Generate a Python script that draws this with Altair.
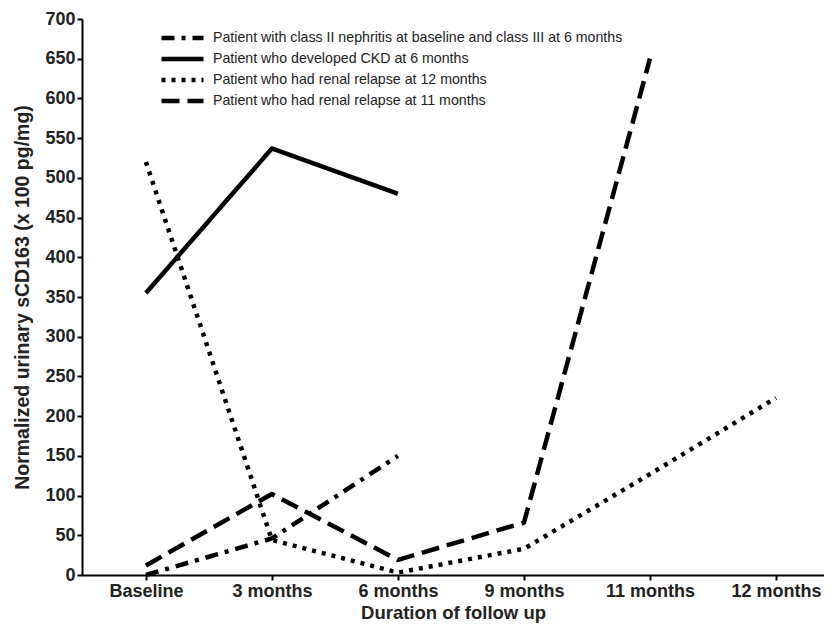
import altair as alt
import pandas as pd

timepoints = ["Baseline", "3 months", "6 months", "9 months", "11 months", "12 months"]

series_names = [
    "Patient with class II nephritis at baseline and class III at 6 months",
    "Patient who developed CKD at 6 months",
    "Patient who had renal relapse at 12 months",
    "Patient who had renal relapse at 11 months",
]

class2_vals = [0, 46, 150, None, None, None]
ckd_vals = [355, 537, 480, None, None, None]
relapse12_vals = [520, 44, 3, 33, 127, 223]
relapse11_vals = [12, 102, 19, 66, 650, None]

rows = []
for name, vals in zip(series_names, [class2_vals, ckd_vals, relapse12_vals, relapse11_vals]):
    for t, v in zip(timepoints, vals):
        if v is not None:
            rows.append({"time": t, "value": v, "series": name})
df = pd.DataFrame(rows)

dashes = [[13, 7, 4, 7], [1, 0], [4, 6], [18, 8]]

chart = alt.Chart(df).mark_line(color="black", strokeWidth=4.5, strokeCap="butt", strokeJoin="round").encode(
    x=alt.X("time:N", sort=timepoints,
            scale=alt.Scale(type="point", domain=timepoints, padding=0.444, align=0.571),
            axis=alt.Axis(title="Duration of follow up", labelAngle=0)),
    y=alt.Y("value:Q", scale=alt.Scale(domain=[0, 700], nice=False, zero=True),
            axis=alt.Axis(title="Normalized urinary sCD163 (x 100 pg/mg)",
                          values=list(range(0, 701, 50)), titleFontSize=19.5, titlePadding=12)),
    strokeDash=alt.StrokeDash("series:N",
                              scale=alt.Scale(domain=series_names, range=dashes),
                              legend=alt.Legend(title=None, orient="none", legendX=77, legendY=10.5,
                                                symbolType="stroke", symbolSize=1764,
                                                symbolStrokeWidth=4.5, symbolStrokeColor="black",
                                                labelFont="Liberation Sans", labelFontSize=14.2,
                                                labelColor="#222", clipHeight=17, rowPadding=4,
                                                labelOffset=7, labelLimit=600)),
    detail="series:N",
).properties(
    width=742, height=556,
    autosize=alt.AutoSizeParams(type="none"),
    padding={"left": 74, "top": 11, "right": 0, "bottom": 49},
).configure_view(stroke=None).configure_axis(
    domainColor="black", domainWidth=2, tickColor="black", tickWidth=2, tickSize=5,
    grid=False, labelFont="Liberation Sans", labelFontWeight="bold", labelFontSize=18,
    labelColor="#222", titleFont="Liberation Sans", titleFontWeight="bold", titleFontSize=18.5,
    titleColor="#222", labelPadding=2,
).configure_axisX(titlePadding=3)

chart.save("out.html", embed_options={"renderer": "svg", "actions": False})
